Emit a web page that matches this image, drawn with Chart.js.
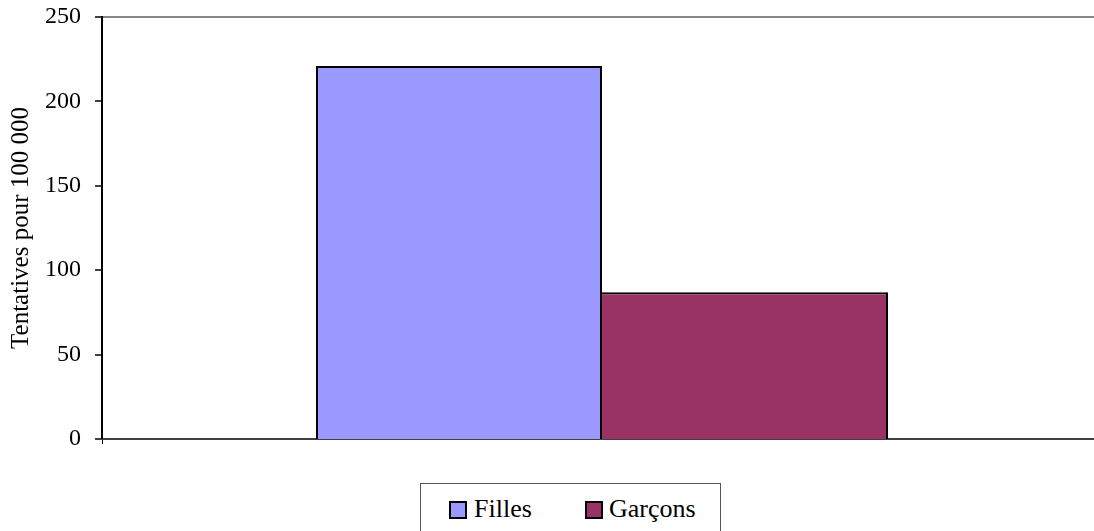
<!DOCTYPE html>
<html>
<head>
<meta charset="utf-8">
<script src="https://cdn.jsdelivr.net/npm/chart.js@4.4.1/dist/chart.umd.min.js"></script>
<style>
  html, body { margin: 0; padding: 0; background: #fff; overflow: hidden; width: 1094px; height: 531px; }
  #wrap { position: absolute; left: 0; top: 0; width: 1102px; height: 447px; }
  #legend { position: absolute; left: 420px; top: 483px; width: 301px; height: 52px; border: 1px solid #555; box-sizing: border-box; font-family: "Liberation Serif", "Times New Roman", serif; font-size: 26px; color: #000; }
  .mk { position: absolute; top: 17px; width: 14px; height: 14px; border: 2px solid #000; }
  .lb { position: absolute; top: 10px; line-height: 30px; white-space: nowrap; }
</style>
</head>
<body>
<div id="wrap"><canvas id="c"></canvas></div>
<div id="legend"></div>
<script>
const categories = [''];
const seriesNames = ['Filles', 'Garçons'];
const filles = [221];
const garcons = [87];
const yTicks = [0, 50, 100, 150, 200, 250];
const axisTitle = 'Tentatives pour 100 000';
const colors = ['#9999FF', '#993366'];

const legend = document.getElementById('legend');
const mkX = [28, 164];
const lbX = [53, 188];
seriesNames.forEach((n, i) => {
  const m = document.createElement('div');
  m.className = 'mk'; m.style.left = mkX[i] + 'px'; m.style.background = colors[i];
  legend.appendChild(m);
  const l = document.createElement('div');
  l.className = 'lb'; l.style.left = lbX[i] + 'px'; l.textContent = n;
  legend.appendChild(l);
});

const font = { family: '"Liberation Serif", "Times New Roman", serif' };

new Chart(document.getElementById('c'), {
  type: 'bar',
  data: {
    labels: categories,
    datasets: [
      { label: seriesNames[0], data: filles, backgroundColor: colors[0], borderColor: '#000', borderWidth: 2 },
      { label: seriesNames[1], data: garcons, backgroundColor: colors[1], borderColor: '#000', borderWidth: { left: 0, top: 2, right: 2, bottom: 2 } }
    ]
  },
  options: {
    responsive: true,
    maintainAspectRatio: false,
    animation: false,
    layout: { padding: { top: 17, left: 0, right: 0, bottom: 0 } },
    plugins: { legend: { display: false }, tooltip: { enabled: false } },
    datasets: { bar: { barPercentage: 1, categoryPercentage: 0.572 } },
    scales: {
      x: {
        offset: true,
        ticks: { display: false },
        grid: { display: true, offset: true, drawOnChartArea: false, drawTicks: true, tickLength: 5, tickColor: '#000', tickWidth: 1 },
        border: { display: true, color: '#404040', width: 2 },
        afterFit: (s) => { s.height = 8; s.paddingLeft = 0; s.paddingRight = 0; }
      },
      y: {
        min: 0, max: 250,
        afterBuildTicks: (s) => { s.ticks = yTicks.map(v => ({ value: v })); },
        ticks: { color: '#000', font: { ...font, size: 24 }, padding: 14, callback: (v) => String(v) },
        grid: {
          drawOnChartArea: true,
          color: (ctx) => (ctx.tick && ctx.tick.value === 250) ? '#888888' : 'rgba(0,0,0,0)',
          lineWidth: (ctx) => (ctx.tick && ctx.tick.value === 250) ? 2 : 0,
          tickLength: 7, tickColor: '#000', tickWidth: 1.5
        },
        border: { display: true, color: '#000', width: 2 },
        title: { display: true, text: axisTitle, color: '#000', font: { ...font, size: 25 }, padding: { top: 6, bottom: 0 } },
        afterFit: (s) => { s.width = 102; s.paddingTop = 0; s.paddingBottom = 0; }
      }
    }
  }
});
</script>
</body>
</html>
